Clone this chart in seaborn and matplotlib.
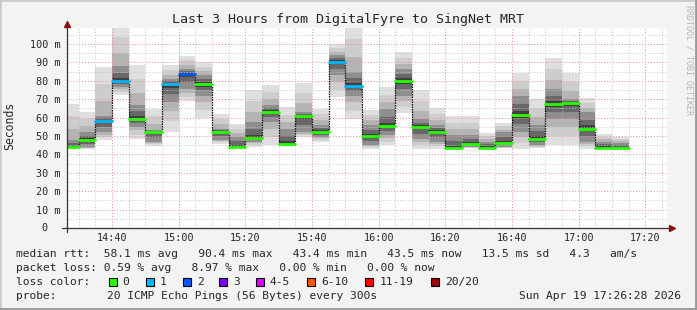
import matplotlib
matplotlib.use("Agg")
import matplotlib.pyplot as plt
import matplotlib.dates as mdates
from matplotlib.ticker import MultipleLocator, FuncFormatter
from matplotlib.lines import Line2D
from matplotlib.patches import Rectangle
import numpy as np
import pandas as pd
import seaborn as sns

# ---------------- data ----------------
day = "2026-04-19"
bar_start = ["14:25", "14:30", "14:35", "14:40", "14:45", "14:50", "14:55",
             "15:00", "15:05", "15:10", "15:15", "15:20", "15:25", "15:30",
             "15:35", "15:40", "15:45", "15:50", "15:55", "16:00", "16:05",
             "16:10", "16:15", "16:20", "16:25", "16:30", "16:35", "16:40",
             "16:45", "16:50", "16:55", "17:00", "17:05", "17:10"]
median_ms = [44.0, 48.0, 58.3, 80.1, 59.4, 52.0, 78.1, 83.7, 78.1, 52.0,
             44.2, 48.9, 63.2, 45.7, 60.9, 52.4, 90.4, 77.4, 50.0, 55.3,
             80.1, 54.9, 52.4, 43.4, 45.7, 43.7, 46.4, 61.6, 48.5, 67.6,
             68.1, 54.0, 43.7, 43.5]
smoke_lo = [43.1, 43.1, 48.0, 72.5, 48.5, 44.6, 52.2, 68.8, 60.0, 45.8,
            44.0, 44.0, 45.0, 44.5, 49.5, 46.7, 71.0, 59.4, 43.1, 44.9,
            62.7, 43.1, 43.1, 43.3, 43.5, 43.3, 43.5, 43.1, 43.5, 45.0,
            45.0, 43.1, 43.5, 43.5]
smoke_hi = [67.6, 63.0, 87.5, 112.0, 88.8, 64.8, 88.8, 93.6, 90.2, 62.0,
            56.5, 75.0, 77.9, 65.8, 78.8, 64.8, 99.8, 112.0, 64.3, 76.6,
            95.7, 74.8, 65.2, 60.7, 60.7, 51.6, 57.1, 84.4, 69.9, 92.6,
            84.4, 70.7, 51.1, 49.5]
core_lo = [44.0, 44.0, 52.0, 76.5, 55.0, 47.0, 68.5, 75.5, 72.0, 48.0,
           44.0, 47.0, 57.6, 45.7, 52.0, 49.5, 83.0, 72.0, 45.0, 50.5,
           72.0, 48.4, 46.7, 43.5, 44.0, 43.5, 44.0, 52.0, 45.0, 59.0,
           59.0, 46.7, 43.5, 43.5]
core_hi = [48.0, 52.0, 61.0, 88.0, 67.0, 53.0, 81.0, 86.4, 83.0, 54.0,
           49.5, 57.6, 67.0, 53.8, 63.0, 56.0, 94.0, 85.0, 56.0, 64.7,
           86.4, 59.0, 56.0, 50.5, 50.5, 47.0, 52.0, 72.0, 56.0, 75.5,
           70.0, 63.0, 47.0, 46.0]
loss_count = ["0", "0", "1", "1", "0", "0", "1", "2", "0", "0",
              "0", "0", "0", "0", "0", "0", "1", "1", "0", "0",
              "0", "0", "0", "0", "0", "0", "0", "0", "0", "0",
              "0", "0", "0", "0"]
loss_labels = ["0", "1", "2", "3", "4-5", "6-10", "11-19", "20/20"]
loss_colors = ["#26ff00", "#00b8ff", "#0059ff", "#7e00ff", "#dd00ff",
               "#ff5500", "#ff0000", "#a10000"]

title = "Last 3 Hours from DigitalFyre to SingNet MRT"
window = ("14:26:28", "17:26:28")
line_rtt = "median rtt:  58.1 ms avg   90.4 ms max   43.4 ms min   43.5 ms now   13.5 ms sd   4.3   am/s"
line_loss = "packet loss: 0.59 % avg   8.97 % max   0.00 % min   0.00 % now"
probe_text = "20 ICMP Echo Pings (56 Bytes) every 300s"
stamp = "Sun Apr 19 17:26:28 2026"

# ---------------- setup ----------------
sns.set_style("white")
plt.rcParams["font.family"] = ["DejaVu Sans Mono"]

W, H = 697, 310
fig = plt.figure(figsize=(W / 100, H / 100), dpi=100, facecolor="#f3f3f3")


def fx(px):
    return px / W


def fy(py):
    return 1 - py / H


ax = fig.add_axes([fx(67), fy(228), 600 / W, 200 / H])
ax.set_facecolor("white")

t0 = mdates.date2num(pd.to_datetime([f"{day} {s}" for s in bar_start]))
step = 5.0 / 1440.0
med = np.array(median_ms)
lo = np.array(smoke_lo)
hi = np.array(smoke_hi)
clo = np.array(core_lo)
chi = np.array(core_hi)

# smoke: nested gray bands from the outer range towards the dark core
shades = [(0.0, "#dfdfdf"), (0.35, "#cdcdcd"), (0.7, "#b4b4b4"), (1.0, "#8e8e8e")]
for f, c in shades:
    b = lo + (clo - lo) * f
    t = hi - (hi - chi) * f
    ax.bar(t0, t - b, bottom=b, width=step, align="edge", color=c,
           linewidth=0, antialiased=False, zorder=1)
inner = [(0.45, "#686868"), (0.8, "#404040")]
for f, c in inner:
    b = clo + (med - clo) * f
    t = chi - (chi - med) * f
    ax.bar(t0, t - b, bottom=b, width=step, align="edge", color=c,
           linewidth=0, antialiased=False, zorder=1)

# median line, coloured by loss count (seaborn)
rows = []
for i, (s, m, l) in enumerate(zip(t0, med, loss_count)):
    rows.append({"time": s, "rtt": m, "bar": i, "loss": l})
    rows.append({"time": s + step, "rtt": m, "bar": i, "loss": l})
df = pd.DataFrame(rows)
pal = dict(zip(loss_labels, loss_colors))
sns.lineplot(data=df, x="time", y="rtt", units="bar", hue="loss",
             hue_order=[h for h in loss_labels if h in set(loss_count)],
             palette=pal, estimator=None, legend=False, linewidth=2.0,
             ax=ax, zorder=4)
# dark dotted step connectors
ax.vlines(t0[1:], med[:-1], med[1:], colors="#111111", linewidth=0.9,
          linestyles=(0, (1.2, 0.8)), zorder=3)

# axes limits / grid
ax.set_xlim(mdates.date2num(pd.Timestamp(f"{day} {window[0]}")),
            mdates.date2num(pd.Timestamp(f"{day} {window[1]}")))
ax.set_ylim(0, 200 / 1.84)
ax.xaxis.set_major_locator(mdates.MinuteLocator(byminute=[0, 20, 40]))
ax.xaxis.set_minor_locator(mdates.MinuteLocator(byminute=range(0, 60, 5)))
ax.xaxis.set_major_formatter(mdates.DateFormatter("%H:%M"))
ax.yaxis.set_major_locator(MultipleLocator(10))
ax.yaxis.set_minor_locator(MultipleLocator(5))
ax.yaxis.set_major_formatter(FuncFormatter(lambda v, p: "" if abs(v) < 1e-9 else f"{v:.0f} m"))
ax.set_xlabel("")
ax.set_ylabel("")
ax.set_axisbelow(False)
ax.grid(which="minor", color="#c4c4c4", linestyle=(0, (1, 2)), linewidth=0.7)
ax.grid(which="major", color="#f08a8a", linestyle=(0, (1, 2)), linewidth=0.7)
ax.tick_params(which="major", length=2.5, width=0.7, color="#e08080",
               labelsize=7.3, pad=2.2)
ax.tick_params(which="minor", length=0)
ax.tick_params(axis="x", pad=1.4)
for sp in ax.spines.values():
    sp.set_visible(False)
ax.text(-20 / 600, 0, "0", transform=ax.get_yaxis_transform(),
        ha="right", va="center", fontsize=7.3)

# axis lines and arrows
fig.add_artist(Line2D([fx(62), fx(668)], [fy(228), fy(228)], color="#333333", lw=0.9))
fig.add_artist(Line2D([fx(67), fx(67)], [fy(232), fy(26)], color="#333333", lw=0.9))
fig.add_artist(Line2D([fx(672)], [fy(228)], marker=">", color="#8b1010", ms=5, lw=0))
fig.add_artist(Line2D([fx(67)], [fy(24)], marker="^", color="#8b1010", ms=5, lw=0))

# texts
fs = 8.1
fig.text(fx(348.5), fy(19), title, ha="center", va="center", fontsize=9.6)
fig.text(fx(10), fy(126), "Seconds", rotation=90, ha="center", va="center", fontsize=8.3)
fig.text(fx(689), fy(5), "RRDTOOL / TOBI OETIKER", rotation=270, ha="center",
         va="top", fontsize=6, color="#b4b4b4")

fig.text(fx(16), fy(254), line_rtt, ha="left", va="center", fontsize=fs)
fig.text(fx(16), fy(268), line_loss, ha="left", va="center", fontsize=fs)
fig.text(fx(16), fy(282), "loss color:", ha="left", va="center", fontsize=fs)
for lab, col, x in zip(loss_labels, loss_colors,
                       [108.7, 145.7, 182.7, 219.3, 256, 307, 365.3, 430.7]):
    fig.add_artist(Rectangle((fx(x), fy(286)), 8 / W, 8 / H, facecolor=col,
                             edgecolor="black", linewidth=0.8))
    fig.text(fx(x + 14), fy(282), lab, ha="left", va="center", fontsize=fs)
fig.text(fx(16), fy(296), "probe:", ha="left", va="center", fontsize=fs)
fig.text(fx(107), fy(296), probe_text, ha="left", va="center", fontsize=fs)
fig.text(fx(681), fy(296), stamp, ha="right", va="center", fontsize=fs)

# frame shading
fig.add_artist(Rectangle((0, 0), 1, 1, fill=False, edgecolor="#cbcbcb", linewidth=2))
fig.add_artist(Line2D([fx(696), fx(696)], [0, 1], color="#999999", lw=2))
fig.add_artist(Line2D([0, 1], [fy(309), fy(309)], color="#999999", lw=2))

fig.savefig("out.png", dpi=100, facecolor=fig.get_facecolor())
